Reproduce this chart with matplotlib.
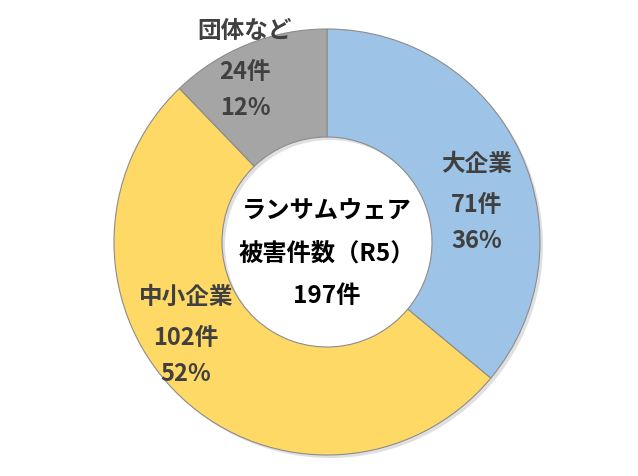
import matplotlib
matplotlib.use('Agg')
import matplotlib.pyplot as plt
from matplotlib.patches import Wedge

plt.rcParams['font.family'] = ['Noto Sans CJK JP', 'DejaVu Sans']

# data
labels = ['大企業', '中小企業', '団体など']
counts = [71, 102, 24]
percents = ['36%', '52%', '12%']
colors = ['#9DC3E6', '#FFD966', '#A5A5A5']
center_lines = ['ランサムウェア', '被害件数（R5）', '197件']

W, H = 638, 476
fig = plt.figure(figsize=(W / 100, H / 100), dpi=100)
ax = fig.add_axes([0, 0, 1, 1])

cx, cy = 327, H - 242
r = 213
ring = 108

# faint drop shadow
ax.add_patch(Wedge((cx + 3, cy - 3), r, 0, 360, width=ring,
                   facecolor='black', alpha=0.12, edgecolor='none'))

ax.pie(counts, colors=colors, startangle=90, counterclock=False,
       center=(cx, cy), radius=r, frame=True,
       wedgeprops=dict(width=ring, edgecolor='#8c8c8c', linewidth=0.8))
ax.set_xlim(0, W)
ax.set_ylim(0, H)
ax.set_aspect('equal')
ax.axis('off')

lab_color = '#404040'
fs = 17
# centre of the first label line (pixel coords from top)
label_pos = {
    '大企業': (477, 164),
    '中小企業': (186, 297),
    '団体など': (245, 31),
}
for name, n, p in zip(labels, counts, percents):
    x, y = label_pos[name]
    for dy, s in [(0, name), (41, f'{n}件'), (77, p)]:
        ax.text(x, H - (y + dy), s, ha='center', va='center', fontsize=fs,
                fontweight='bold', color=lab_color)

for i, line in enumerate(center_lines):
    ax.text(cx, H - (212 + 42 * i), line, ha='center', va='center',
            fontsize=17.5, fontweight='bold', color='black')

fig.savefig('out.png', dpi=100)
